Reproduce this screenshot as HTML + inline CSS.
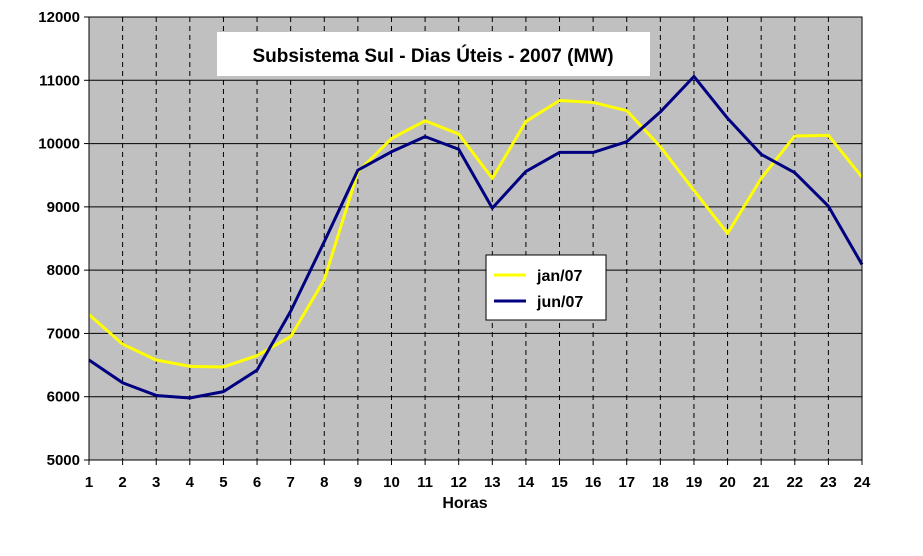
<!DOCTYPE html>
<html><head><meta charset="utf-8"><style>
body{margin:0;background:#fff;}
svg text{font-family:"Liberation Sans",Arial,sans-serif;font-weight:bold;}
</style></head><body>
<svg width="923" height="551" viewBox="0 0 923 551" id="chart">
<rect x="89" y="17" width="773" height="443" fill="#c0c0c0"/>
<g id="grid"></g><g id="axes"></g><g id="series"></g>
<rect x="89" y="17" width="773" height="443" fill="none" stroke="#000" stroke-width="1"/>
<g>
<rect x="217" y="32" width="433" height="44" fill="#fff"/>
<text x="433" y="62" text-anchor="middle" font-size="19">Subsistema Sul - Dias Úteis - 2007 (MW)</text>
</g>
<g>
<rect x="486" y="255" width="120" height="65" fill="#fff" stroke="#000" stroke-width="1"/>
<line x1="494" y1="275" x2="526" y2="275" stroke="#ffff00" stroke-width="3"/>
<text x="537" y="281" font-size="16">jan/07</text>
<line x1="494" y1="301" x2="526" y2="301" stroke="#000080" stroke-width="3"/>
<text x="537" y="307" font-size="16">jun/07</text>
</g>
<text x="465" y="508" text-anchor="middle" font-size="16">Horas</text>
</svg>
<script>
const hours=[1,2,3,4,5,6,7,8,9,10,11,12,13,14,15,16,17,18,19,20,21,22,23,24];
const jan07=[7300,6830,6580,6480,6470,6650,6950,7850,9550,10080,10360,10150,9450,10350,10680,10650,10520,9950,9260,8580,9450,10120,10130,9470];
const jun07=[6580,6220,6020,5980,6080,6420,7350,8450,9580,9870,10110,9910,8980,9560,9860,9860,10030,10500,11060,10400,9830,9540,9010,8090];
const yTicks=[5000,6000,7000,8000,9000,10000,11000,12000];
const NS="http://www.w3.org/2000/svg";
const x0=89,x1=862,y0=460,y1=17,ymin=5000,ymax=12000;
const xs=h=>x0+(h-1)*(x1-x0)/(hours.length-1);
const ys=v=>y0-(v-ymin)*(y0-y1)/(ymax-ymin);
function mk(t,a,p){const e=document.createElementNS(NS,t);for(const k in a)e.setAttribute(k,a[k]);p.appendChild(e);return e;}
const grid=document.getElementById('grid'),axes=document.getElementById('axes'),ser=document.getElementById('series');
yTicks.forEach(v=>{
 const l=mk('line',{x1:x0,x2:x1,y1:ys(v),y2:ys(v),stroke:'#000','stroke-width':1},grid);
 
 
 const tk=mk('line',{x1:x0-5,x2:x0,y1:ys(v),y2:ys(v),stroke:'#000'},axes);
 
 
 const t=mk('text',{x:x0-9,y:ys(v)+5,'text-anchor':'end','font-size':15},axes);
 t.textContent=v;
 
 
});
hours.forEach(h=>{
 if(h>1&&h<hours.length){const l=mk('line',{x1:xs(h),x2:xs(h),y1:y1,y2:y0,stroke:'#000','stroke-dasharray':'5,4'},grid);
 
 }
 const tk=mk('line',{x1:xs(h),x2:xs(h),y1:y0,y2:y0+5,stroke:'#000'},axes);
 
 
 const t=mk('text',{x:xs(h),y:y0+27,'text-anchor':'middle','font-size':15},axes);
 t.textContent=h;
 
 
});
[[jan07,'#ffff00','series-jan07'],[jun07,'#000080','series-jun07']].forEach(([d,c,n])=>{
 const p=mk('polyline',{points:d.map((v,i)=>xs(hours[i])+','+ys(v)).join(' '),fill:'none',stroke:c,'stroke-width':3,'stroke-linejoin':'round'},ser);
 
 
});
</script>
</body></html>
